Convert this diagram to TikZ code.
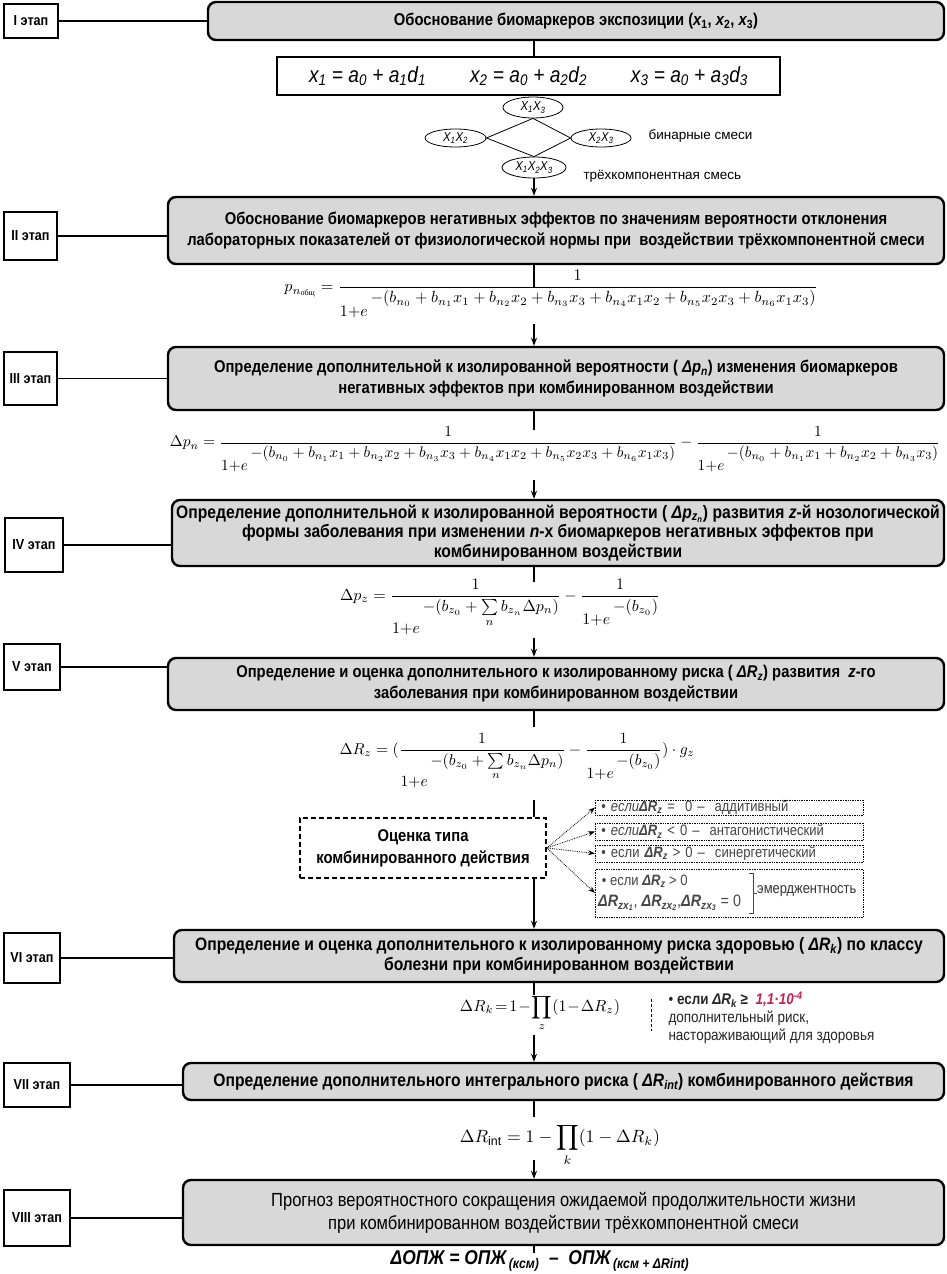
\documentclass[tikz,border=0pt]{standalone}
\usepackage{fontspec}
\usepackage{amsmath}
\usepackage{graphicx}
\setmainfont{Liberation Sans}
\newfontfamily\nar[FakeStretch=0.87]{Liberation Sans}
\newfontfamily\srf{Liberation Serif}
\usetikzlibrary{arrows.meta,shapes.geometric}
\definecolor{boxgray}{RGB}{216,216,216}
\definecolor{txtgray}{RGB}{70,70,70}
\definecolor{redm}{RGB}{200,30,80}
\newcommand{\fw}[2]{\resizebox{#1pt}{!}{$\displaystyle #2$}}
\newcommand{\den}[2][1.6ex]{\raisebox{-#1}{$1{+}e$}\,#2}
\newcommand{\dR}[1]{{\bfseries\itshape ΔR\textsubscript{#1}}}
\begin{document}
\begin{tikzpicture}[x=1pt,y=-1pt,
  stagebox/.style={draw,line width=1.8pt,fill=white,inner sep=1pt,font=\nar\bfseries\fontsize{14.5}{16}\selectfont},
  mainbox/.style={draw,line width=2.4pt,rounded corners=8pt,fill=boxgray,align=center,inner sep=2pt,font=\nar\bfseries\fontsize{17}{21}\selectfont},
  link/.style={line width=1.8pt},
  flow/.style={line width=1.8pt,-{Stealth[length=8pt,width=6pt]}},
  ell/.style={draw,ellipse,line width=0.8pt,fill=white,inner sep=0pt,font=\nar\itshape\fontsize{13}{14}\selectfont},
  thinline/.style={line width=0.8pt},
  rbox/.style={draw,densely dotted,line width=0.7pt,inner xsep=6pt,inner ysep=0pt,text width=256pt,align=left,anchor=west,font=\nar\fontsize{15}{16}\selectfont,text=txtgray},
  dotarrow/.style={densely dotted,line width=0.8pt,-{Stealth[length=7pt,width=5pt]}},
  note/.style={font=\nar\fontsize{15.5}{18}\selectfont,align=left,anchor=west,text=black!85},
]
\useasboundingbox (0,0) rectangle (946,1274);
\fill[white] (0,0) rectangle (946,1274);
\coordinate (sp) at (534,0);

% stage labels
\node[stagebox,minimum width=54,minimum height=34] (s1) at (31,21) {I этап};
\node[stagebox,minimum width=53,minimum height=48] (s2) at (30.5,236) {II этап};
\node[stagebox,minimum width=53,minimum height=53] (s3) at (30.5,378.5) {III этап};
\node[stagebox,minimum width=58,minimum height=54] (s4) at (34,545) {IV этап};
\node[stagebox,minimum width=56,minimum height=46] (s5) at (32,667) {V этап};
\node[stagebox,minimum width=56,minimum height=50] (s6) at (32,958) {VI этап};
\node[stagebox,minimum width=66,minimum height=44] (s7) at (37,1085) {VII этап};
\node[stagebox,minimum width=66,minimum height=56] (s8) at (37,1218) {VIII этап};

% main boxes
\node[mainbox,minimum width=736,minimum height=38] (b1) at (576,21)
  {Обоснование биомаркеров экспозиции ({\itshape x}\textsubscript{1}, {\itshape x}\textsubscript{2}, {\itshape x}\textsubscript{3})};
\node[mainbox,minimum width=776,minimum height=67] (b2) at (556,230.5)
  {Обоснование биомаркеров негативных эффектов по значениям вероятности отклонения\\лабораторных показателей от физиологической нормы при \ воздействии трёхкомпонентной смеси};
\node[mainbox,minimum width=776,minimum height=63] (b3) at (556,378.5)
  {Определение дополнительной к изолированной вероятности ( {\itshape Δp\textsubscript{n}}) изменения биомаркеров\\негативных эффектов при комбинированном воздействии};
\node[mainbox,minimum width=772,minimum height=66,font=\nar\bfseries\fontsize{18}{19.5}\selectfont] (b4) at (558,533)
  {Определение дополнительной к изолированной вероятности ( {\itshape Δp\textsubscript{z\textsubscript{n}}}) развития {\itshape z}-й нозологической\\формы заболевания при изменении {\itshape n}-х биомаркеров негативных эффектов при\\комбинированном воздействии};
\node[mainbox,minimum width=776,minimum height=52] (b5) at (556,684)
  {Определение и оценка дополнительного к изолированному риска ( {\itshape ΔR\textsubscript{z}}) развития \ {\itshape z}-го\\заболевания при комбинированном воздействии};
\node[mainbox,minimum width=770,minimum height=52,font=\nar\bfseries\fontsize{18}{20}\selectfont] (b6) at (559,956)
  {Определение и оценка дополнительного к изолированному риска здоровью ( {\itshape ΔR\textsubscript{k}}) по классу\\болезни при комбинированном воздействии};
\node[mainbox,minimum width=761,minimum height=37,font=\nar\bfseries\fontsize{18}{20}\selectfont] (b7) at (563.5,1081.5)
  {Определение дополнительного интегрального риска ( {\itshape ΔR\textsubscript{int}}) комбинированного действия};
\node[mainbox,minimum width=761,minimum height=65,font=\nar\fontsize{19}{23}\selectfont] (b8) at (563.5,1212.5)
  {Прогноз вероятностного сокращения ожидаемой продолжительности жизни\\при комбинированном воздействии трёхкомпонентной смеси};

% stage links
\foreach \i in {1,...,8} {\draw[link] (s\i.east) -- (s\i.east -| b\i.west);}

% formula box and mixtures
\node[draw,line width=1.4pt,fill=white,minimum width=503,minimum height=38,font=\nar\fontsize{22}{24}\selectfont] (fbox) at (528.5,76)
  {\itshape x\textsubscript{1} = a\textsubscript{0} + a\textsubscript{1}d\textsubscript{1}\hspace{44pt}x\textsubscript{2} = a\textsubscript{0} + a\textsubscript{2}d\textsubscript{2}\hspace{44pt}x\textsubscript{3} = a\textsubscript{0} + a\textsubscript{3}d\textsubscript{3}};
\node[ell,minimum width=60,minimum height=21] (e13) at (533,107.5) {X\textsubscript{1}X\textsubscript{3}};
\node[ell,minimum width=61,minimum height=18] (e12) at (455.5,138) {X\textsubscript{1}X\textsubscript{2}};
\node[ell,minimum width=60,minimum height=18] (e23) at (601,138) {X\textsubscript{2}X\textsubscript{3}};
\node[ell,minimum width=64,minimum height=21] (e123) at (534,167.5) {X\textsubscript{1}X\textsubscript{2}X\textsubscript{3}};
\draw[thinline] (e13.south) -- (e12.east) -- (e123.north) -- (e23.west) -- (e13.south);
\node[anchor=west,font=\fontsize{13.5}{14}\selectfont] (lbin) at (645,136) {бинарные смеси};
\node[anchor=west,font=\fontsize{13.5}{14}\selectfont] (ltri) at (580,176) {трёхкомпонентная смесь};

% formulas
\node (fp) at (551,294) {\fw{533}{p_{n_{\text{\srf общ}}}=\frac{1}{\den{{-}(b_{n_0}+b_{n_1}x_1+b_{n_2}x_2+b_{n_3}x_3+b_{n_4}x_1x_2+b_{n_5}x_2x_3+b_{n_6}x_1x_3)}}}};
\node (fdpn) at (555,449) {\fw{770}{\Delta p_n=\frac{1}{\den{{-}(b_{n_0}+b_{n_1}x_1+b_{n_2}x_2+b_{n_3}x_3+b_{n_4}x_1x_2+b_{n_5}x_2x_3+b_{n_6}x_1x_3)}}-\frac{1}{\den{{-}(b_{n_0}+b_{n_1}x_1+b_{n_2}x_2+b_{n_3}x_3)}}}};
\node (fdpz) at (500,607) {\fw{320}{\Delta p_z=\frac{1}{\den[2.6ex]{{-}(b_{z_0}+\sum\limits_n b_{z_n}\Delta p_n)}}-\frac{1}{\den{{-}(b_{z_0})}}}};
\node (fdrz) at (517,761) {\fw{355}{\Delta R_z=(\frac{1}{\den[2.6ex]{{-}(b_{z_0}+\sum\limits_n b_{z_n}\Delta p_n)}}-\frac{1}{\den{{-}(b_{z_0})}})\cdot g_z}};
\node (fdrk) at (540,1013) {\fw{160}{\Delta R_k\!=\!1\!-\!\prod\limits_z(1\!-\!\Delta R_z)}};
\node (fdri) at (560,1145) {\fw{200}{\Delta R_{\mathrm{int}}=1-\prod_k(1-\Delta R_k)}};
\node[font=\nar\bfseries\itshape\fontsize{20}{22}\selectfont] (fopz) at (540,1261)
  {ΔОПЖ = ОПЖ\textsubscript{\,(ксм)} \ –\ \ ОПЖ\textsubscript{\,(ксм + ΔRint)}};

% spine connectors
\coordinate (c2) at (534,288);
\coordinate (c3) at (534,324);
\coordinate (c4) at (534,430);
\coordinate (c5) at (534,480);
\coordinate (c6) at (534,582);
\coordinate (c7) at (534,638);
\coordinate (c8) at (534,727);
\coordinate (c9) at (534,800);
\coordinate (c10) at (534,995);
\coordinate (c11) at (534,1035);
\coordinate (c12) at (534,1117);
\coordinate (c13) at (534,1160);
\coordinate (c14) at (534,1253);

\draw[link] (b1.south -| sp) -- (fbox.north -| sp);
\draw[flow] (e123.south) -- (b2.north -| e123.south);
\draw[link] (b2.south -| sp) -- (c2);
\draw[flow] (c3) -- (b3.north -| sp);
\draw[link] (b3.south -| sp) -- (c4);
\draw[flow] (c5) -- (b4.north -| sp);
\draw[link] (b4.south -| sp) -- (c6);
\draw[flow] (c7) -- (b5.north -| sp);
\draw[link] (b5.south -| sp) -- (c8);

% evaluation block
\node[draw,line width=1.6pt,dash pattern=on 5pt off 3pt,fill=white,minimum width=246,minimum height=60,align=center,font=\nar\bfseries\fontsize{17}{22}\selectfont] (ot) at (423,848) {Оценка типа\\комбинированного действия};
\draw[link] (c9) -- (ot.north -| sp);
\draw[flow] (ot.south -| sp) -- (b6.north -| sp);

\node[rbox,minimum height=15] (ra) at (595,807.5) {• {\itshape если}\dR{z} = \ 0 – \ аддитивный};
\node[rbox,minimum height=17] (rb) at (595,831.5) {• {\itshape если}\dR{z} < 0 – \ антагонистический};
\node[rbox,minimum height=17] (rc) at (595,853.5) {• если \dR{z} > 0 – \ синергетический};
\node[rbox,minimum height=48] (rd) at (595,893) {};
\node[anchor=west,align=left,inner sep=0pt,text=txtgray,font=\nar\fontsize{15}{21}\selectfont] (dt) at (598,893)
  {\ • если \dR{z} > 0\\{\fontsize{16.5}{18}\selectfont \dR{zx\textsubscript{1}}, \dR{zx\textsubscript{2}},\dR{zx\textsubscript{3}} = 0}};
\draw[thinline,txtgray] (749,873) -- (753,873) -- (753,913) -- (749,913);
\draw[thinline,txtgray] (753,893) -- (757,893);
\node[anchor=west,inner sep=0pt,font=\nar\fontsize{14.8}{16}\selectfont,text=black!80] (em) at (757,891) {эмерджентность};
\foreach \r in {ra,rb,rc,rd} {\draw[dotarrow] (ot.east) -- (\r.west);}

% stage VI details
\draw[link] (b6.south -| sp) -- (c10);
\coordinate (dl1) at (651,999);
\coordinate (dl2) at (651,1031);
\draw[thinline,dash pattern=on 3pt off 2pt] (dl1) -- (dl2);
\node[note] (nt) at (665,1018) {• {\bfseries если {\itshape ΔR\textsubscript{k}} ≥ \ \textcolor{redm}{\itshape 1,1·10\textsuperscript{-4}}}\\дополнительный риск,\\настораживающий для здоровья};
\draw[flow] (c11) -- (b7.north -| sp);
\draw[link] (b7.south -| sp) -- (c12);
\draw[flow] (c13) -- (b8.north -| sp);
\draw[link] (b8.south -| sp) -- (c14);
\end{tikzpicture}
\end{document}
